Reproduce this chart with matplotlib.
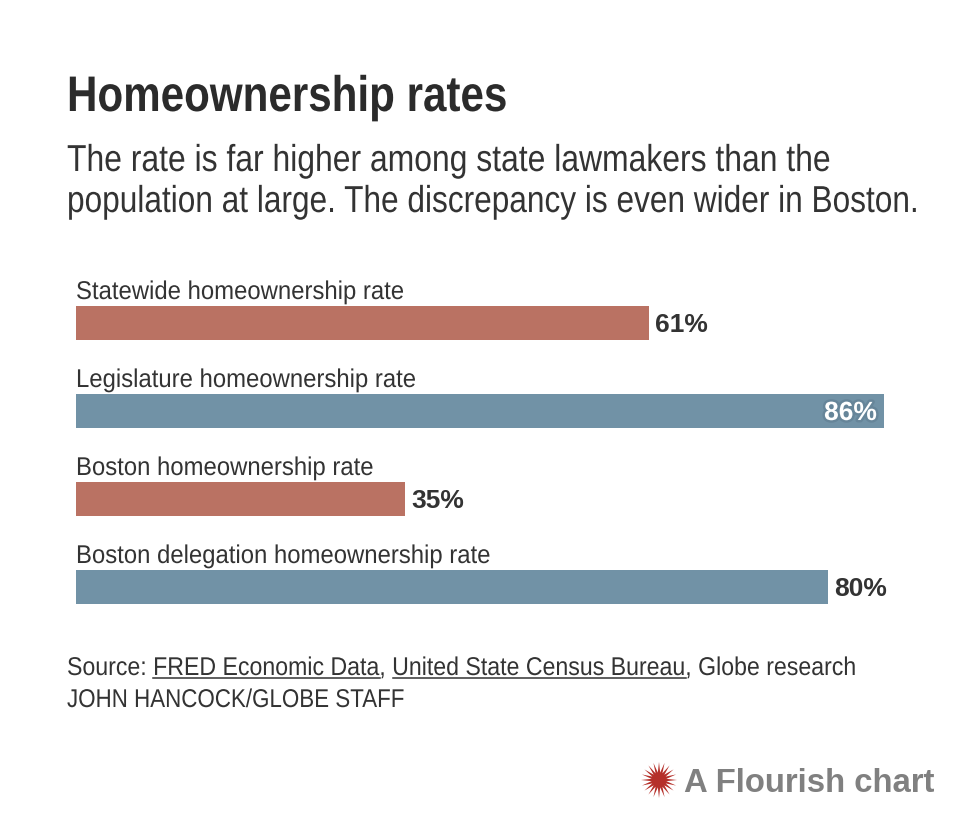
import numpy as np
from matplotlib import pyplot as plt
from matplotlib.transforms import Affine2D
import matplotlib.patheffects as pe

W, H = 964, 838

labels = ['Statewide homeownership rate', 'Legislature homeownership rate',
          'Boston homeownership rate', 'Boston delegation homeownership rate']
values = [61, 86, 35, 80]
bar_colors = ['#ba7263', '#7192a6', '#ba7263', '#7192a6']

title = 'Homeownership rates'
subtitle = ['The rate is far higher among state lawmakers than the',
            'population at large. The discrepancy is even wider in Boston.']
source_parts = [('Source: ', False), ('FRED Economic Data', True), (', ', False),
                ('United State Census Bureau', True), (', Globe research', False)]
credit = 'JOHN HANCOCK/GLOBE STAFF'

FONT = 'Liberation Sans'
TEXT = '#333333'


# no condensed face installed, so squeeze the glyphs sideways around the text anchor
class Condense(pe.AbstractPathEffect):
    def __init__(self, sx):
        super().__init__()
        self.sx = sx

    def draw_path(self, renderer, gc, tpath, affine, rgbFace=None):
        renderer.draw_path(gc, tpath, Affine2D().scale(self.sx, 1) + affine, rgbFace)


fig = plt.figure(figsize=(W / 100, H / 100), dpi=100, facecolor='white')

# overlay in pixel coords for the text block + logo
page = fig.add_axes([0, 0, 1, 1])
page.set_xlim(0, W)
page.set_ylim(H, 0)
page.axis('off')

# bars, axes box is exactly the bar area
ax = fig.add_axes([76 / W, 1 - 604 / H, 808 / W, 298 / H])
ax.patch.set_alpha(0)
pos = np.arange(len(values))
ax.barh(pos, values, height=34 / 88, color=bar_colors)
ax.set_xlim(0, 86)
ax.set_ylim(3 + 17 / 88, -17 / 88)
ax.axis('off')

for i, (lab, val) in enumerate(zip(labels, values)):
    ax.annotate(lab, (0, i), xytext=(0, 24 * 0.72), textcoords='offset points', fontsize=18.5,
                family=FONT, color=TEXT, ha='left', va='baseline', path_effects=[Condense(0.93)])
    if val == max(values):
        ax.annotate(f'{val}%', (val, i), xytext=(-5, -6.5), textcoords='offset points', fontsize=19,
                    family=FONT, weight='bold', color='white', ha='right', va='baseline',
                    path_effects=[pe.withStroke(linewidth=3.5, foreground='#668599')])
    else:
        ax.annotate(f'{val}%', (val, i), xytext=(4.5, -6.5), textcoords='offset points', fontsize=19,
                    family=FONT, weight='bold', color=TEXT, ha='left', va='baseline')

page.text(67, 111, title, fontsize=36, family=FONT, weight='bold', color='#2b2b2b', va='baseline',
          path_effects=[Condense(0.843)])
page.text(67, 171, subtitle[0], fontsize=27, family=FONT, color=TEXT, va='baseline',
          path_effects=[Condense(0.85)])
page.text(67, 212, subtitle[1], fontsize=27, family=FONT, color=TEXT, va='baseline',
          path_effects=[Condense(0.843)])

# source line is one text, the underlines come from measuring what precedes each link
SOURCE_SX = 0.90
fig.canvas.draw()
rend = fig.canvas.get_renderer()


def source_width(s):
    # trailing spaces get dropped from the extent, measure with a stop char
    probe = page.text(67, 675, s + '|', fontsize=18.5, family=FONT, va='baseline')
    stop = page.text(67, 675, '|', fontsize=18.5, family=FONT, va='baseline')
    w = probe.get_window_extent(rend).width - stop.get_window_extent(rend).width
    probe.remove()
    stop.remove()
    return w * SOURCE_SX


so_far = ''
for part, link in source_parts:
    if link:
        page.plot([67 + source_width(so_far), 67 + source_width(so_far + part)], [678, 678],
                  color=TEXT, lw=1.1)
    so_far += part
page.text(67, 675, so_far, fontsize=18.5, family=FONT, color=TEXT, va='baseline',
          path_effects=[Condense(SOURCE_SX)])
page.text(67, 707, credit, fontsize=18.5, family=FONT, color=TEXT, va='baseline',
          path_effects=[Condense(0.87)])

# flourish mark
ang = np.linspace(0, 2 * np.pi, 40, endpoint=False)
rad = np.where(np.arange(40) % 2 == 0, 18, 7.5)
page.fill(659 + rad * np.cos(ang), 780 + rad * np.sin(ang), color='#b5302a', lw=0)
page.text(684, 792, 'A Flourish chart', fontsize=23.7, family=FONT, weight='bold',
          color='#808080', va='baseline')

fig.savefig('out.png', dpi=100, facecolor='white')
